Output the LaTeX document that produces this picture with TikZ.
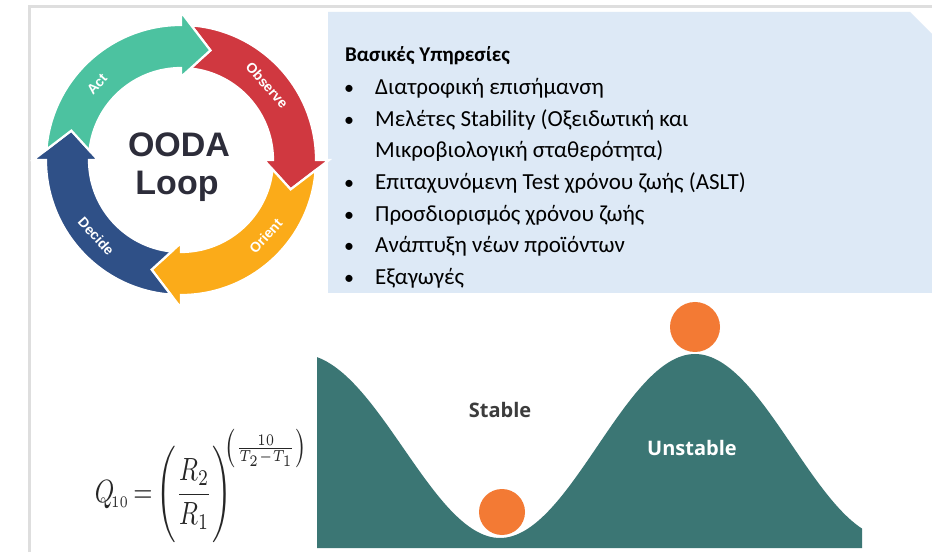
\documentclass[tikz,border=0pt]{standalone}
\usepackage{fontspec}
\usepackage{graphicx}
\setmainfont{Carlito}
\newfontfamily\arialf{Liberation Sans}
\newfontfamily\opensans{Open Sans}
\definecolor{actg}{RGB}{76,194,160}
\definecolor{obsr}{RGB}{208,56,64}
\definecolor{oriy}{RGB}{251,171,25}
\definecolor{decb}{RGB}{47,80,135}
\definecolor{boxblue}{RGB}{221,233,246}
\definecolor{hillc}{RGB}{59,118,116}
\definecolor{ballc}{RGB}{243,122,52}
\definecolor{oodatxt}{RGB}{45,45,58}
\definecolor{framegray}{RGB}{222,222,222}
\definecolor{stabletxt}{RGB}{60,60,60}
\newcommand{\oodaarrow}[2]{%
 \filldraw[fill=#1, draw=white, line width=2.2pt, line join=miter]
 ({#2-4.4}:135) arc[start angle={#2-4.4}, end angle={#2-90}, radius=135]
 -- ({#2-90}:148) -- ({#2-105}:113.5) -- ({#2-90}:83) -- ({#2-90}:92)
 arc[start angle={#2-90}, end angle={#2-5.9}, radius=92]
 -- ({#2-15}:113.5) -- cycle;}
\tikzset{
 lbl/.style={text=white, font=\arialf\bfseries\fontsize{14}{16}\selectfont, inner sep=0pt},
 oodab/.style={text=oodatxt, font=\arialf\bfseries\fontsize{34}{38}\selectfont, anchor=base, inner sep=0pt},
 listtxt/.style={font=\fontsize{23}{28}\selectfont, anchor=base west, inner sep=0pt, text=black},
 bul/.style={font=\fontsize{20}{28}\selectfont, anchor=base, inner sep=0pt, text=black},
 hilltxt/.style={font=\opensans\bfseries\fontsize{20}{24}\selectfont, inner sep=0pt}
}
\begin{document}
\begin{tikzpicture}[x=1pt,y=1pt]
\useasboundingbox (0,0) rectangle (932,552);
\fill[white] (0,0) rectangle (932,552);
% frame
\draw[framegray, line width=3pt] (29.5,0) -- (29.5,545) -- (932,545);
% info box
\fill[boxblue] (328,259) -- (328,540) -- (910,540) -- (932,518) -- (932,259) -- cycle;
% OODA ring
\begin{scope}[shift={(181,392)}]
 \oodaarrow{obsr}{90}
 \oodaarrow{oriy}{0}
 \oodaarrow{decb}{-90}
 \oodaarrow{actg}{180}
 \node[lbl, rotate=48] (lact) at (138:113) {Act};
 \node[lbl, rotate=-49] (lobs) at (41:114) {Observe};
 \node[lbl, rotate=48] (lori) at (-42:114) {Orient};
 \node[lbl, rotate=-48] (ldec) at (-138:114) {Decide};
\end{scope}
\node[oodab] (ooda) at (179,395) {OODA};
\node[oodab] (loop) at (177,357) {Loop};
% list
\node[listtxt, font=\bfseries\fontsize{21}{28}\selectfont] (title) at (345,490) {Βασικές Υπηρεσίες};
\node[bul] (b1) at (349,457) {•};
\node[listtxt] (t1) at (375,457) {Διατροφική επισήμανση};
\node[bul] (b2) at (349,425) {•};
\node[listtxt] (t2) at (375,425) {Μελέτες Stability (Οξειδωτική και};
\node[listtxt] (t2b) at (375,394) {Μικροβιολογική σταθερότητα)};
\node[bul] (b3) at (349,362) {•};
\node[listtxt] (t3) at (375,362) {Επιταχυνόμενη Test χρόνου ζωής (ASLT)};
\node[bul] (b4) at (349,330) {•};
\node[listtxt] (t4) at (375,330) {Προσδιορισμός χρόνου ζωής};
\node[bul] (b5) at (349,299) {•};
\node[listtxt] (t5) at (375,299) {Ανάπτυξη νέων προϊόντων};
\node[bul] (b6) at (349,267) {•};
\node[listtxt] (t6) at (375,267) {Εξαγωγές};
% hills
\begin{scope}
 \clip (317,0) rectangle (862,552);
 \fill[hillc] (300,4) -- (300,198) .. controls (375,198) and (430,14) .. (500,14)
   .. controls (570,14) and (625,198) .. (695,198)
   .. controls (765,198) and (820,14) .. (890,14) -- (890,4) -- cycle;
\end{scope}
\fill[ballc] (502,40) circle (23);
\fill[ballc] (695,225) circle (25);
\node[hilltxt, text=stabletxt] (stable) at (500,142) {Stable};
\node[hilltxt, text=white] (unstable) at (692,104) {Unstable};
% formula
\node[inner sep=0pt, text=black!85] (q10) at (201.5,66) {\scalebox{1}[1.3]{\resizebox{213pt}{!}{$\displaystyle Q_{\!\scriptscriptstyle 10}\,{=}\,\Biggl(\frac{R_2}{R_1}\Biggr)^{\!\!\left(\frac{10}{T_2-T_1}\right)}$}}};
\end{tikzpicture}
\end{document}
